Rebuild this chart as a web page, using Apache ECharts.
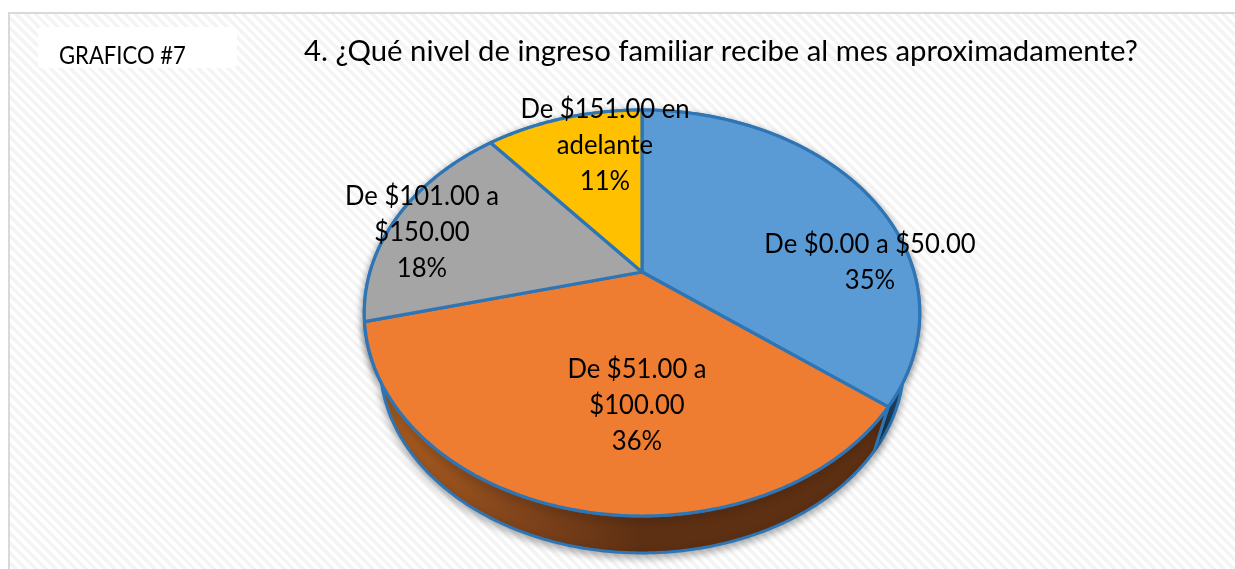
<!DOCTYPE html>
<html>
<head>
<meta charset="utf-8">
<style>
html, body { margin: 0; padding: 0; background: #fff; }
#chart {
	position: absolute; left: 8px; top: 12px; width: 1240px; height: 570px;
	box-sizing: border-box; border: 2px solid #d9d9d9;
	background: repeating-linear-gradient(45deg, #fff 0, #fff 3.5px, #f4f4f4 3.5px, #f4f4f4 7px);
}
</style>
<script src="https://cdn.jsdelivr.net/npm/echarts@6/dist/echarts.min.js"></script>
</head>
<body>
<div id="chart"></div>
<script>
const categories = ['De $0.00 a $50.00', 'De $51.00 a\n$100.00', 'De $101.00 a\n$150.00', 'De $151.00 en\nadelante'];
const shares = [35.4, 35.7, 17.8, 11.1];
const titleText = '4. ¿Qué nivel de ingreso familiar recibe al mes aproximadamente?';
const badgeText = 'GRAFICO #7';

const faceColors = ['#5b9bd5', '#ef7d31', '#a5a5a5', '#ffc000'];
const edgeColor = '#2e75b6';
const font = 'Lato, "Noto Sans", sans-serif';

// the chart div sits at (8,12) + 2px border, so page coords minus 10 / 14
const ox = 10, oy = 14;
const tilt = 0.202;
const topRim = {cx: 642 - ox, cy: 272 - oy, kx: 272, ky: 194.7};
const lowRim = {cx: 642 - ox, cy: 324.6 - oy, kx: 256.6, ky: 182.2};
const labelCenters = [[870, 262], [637, 405], [422, 232], [605, 145]];

// echarts has no 3d pie in core, so project the circle ourselves
function project(rim, deg, r) {
	const a = deg * Math.PI / 180;
	const x = Math.sin(a) * r, y = -Math.cos(a) * r;
	const w = 1 - tilt * y;
	return [rim.cx + rim.kx * x / w, rim.cy + rim.ky * y / w];
}

function arc(rim, from, to) {
	const pts = [];
	const n = Math.ceil(Math.abs(to - from) * 2);
	for (let i = 0; i <= n; i++) pts.push(project(rim, from + (to - from) * i / n, 1));
	return pts;
}

let running = 0;
const rows = shares.map((v) => {
	const row = [running * 3.6, (running + v) * 3.6, v];
	running += v;
	return row;
});

function wallColor(i) {
	if (i === 0) return '#21496b';
	if (i === 1) {
		return new echarts.graphic.LinearGradient(372 - ox, 0, 640 - ox, 0, [
			{offset: 0, color: '#b0601f'},
			{offset: 0.5, color: '#84461c'},
			{offset: 1, color: '#5e3013'}
		], true);
	}
	return i === 2 ? '#63635f' : '#987200';
}

function renderWall(params, api) {
	const from = api.value(0), to = api.value(1);
	const points = arc(topRim, from, to).concat(arc(lowRim, to, from));
	return {
		type: 'group',
		children: [
			{
				type: 'polygon',
				z2: 1,
				shape: {points: [project(topRim, 0, 0)].concat(arc(topRim, from, to))},
				style: {fill: '#fff', shadowBlur: 7, shadowColor: 'rgba(0,0,0,0.25)', shadowOffsetY: 3}
			},
			{
				type: 'polygon',
				z2: 2,
				shape: {points: points},
				style: {
					fill: wallColor(params.dataIndex), stroke: edgeColor, lineWidth: 3, lineJoin: 'round',
					shadowBlur: 8, shadowColor: 'rgba(0,0,0,0.35)', shadowOffsetY: 3
				}
			}
		]
	};
}

function renderFace(params, api) {
	const i = params.dataIndex;
	const from = api.value(0), to = api.value(1);
	const c = labelCenters[i];
	return {
		type: 'group',
		children: [
			{
				type: 'polygon',
				z2: 1,
				shape: {points: [project(topRim, 0, 0)].concat(arc(topRim, from, to))},
				style: {fill: faceColors[i], stroke: edgeColor, lineWidth: 3.2, lineJoin: 'round'}
			},
			{
				type: 'text',
				z2: 5,
				x: c[0] - ox,
				y: c[1] - oy,
				scaleX: 0.95,
				style: {
					text: categories[i] + '\n' + Math.round(api.value(2)) + '%',
					font: '27px ' + font,
					lineHeight: 36,
					fill: '#000',
					align: 'center',
					verticalAlign: 'middle'
				}
			}
		]
	};
}

const chart = echarts.init(document.getElementById('chart'));
chart.setOption({
	animation: false,
	title: {
		text: titleText,
		left: 289,
		top: 18,
		textStyle: {color: '#000', fontFamily: 'Lato', fontWeight: 'normal', fontSize: 29.3}
	},
	graphic: [
		{
			type: 'rect',
			z: 0,
			shape: {x: 38 - ox, y: 27 - oy, width: 199, height: 41, r: 4},
			style: {fill: '#fff'}
		},
		{
			type: 'text',
			z: 1,
			x: 59 - ox,
			y: 56 - oy,
			scaleX: 0.9,
			style: {text: badgeText, font: '24.5px ' + font, fill: '#000', verticalAlign: 'middle'}
		}
	],
	series: [
		{type: 'custom', coordinateSystem: 'none', z: 1, silent: true, renderItem: renderWall, data: rows},
		{type: 'custom', coordinateSystem: 'none', z: 2, silent: true, renderItem: renderFace, data: rows}
	]
});
</script>
</body>
</html>
